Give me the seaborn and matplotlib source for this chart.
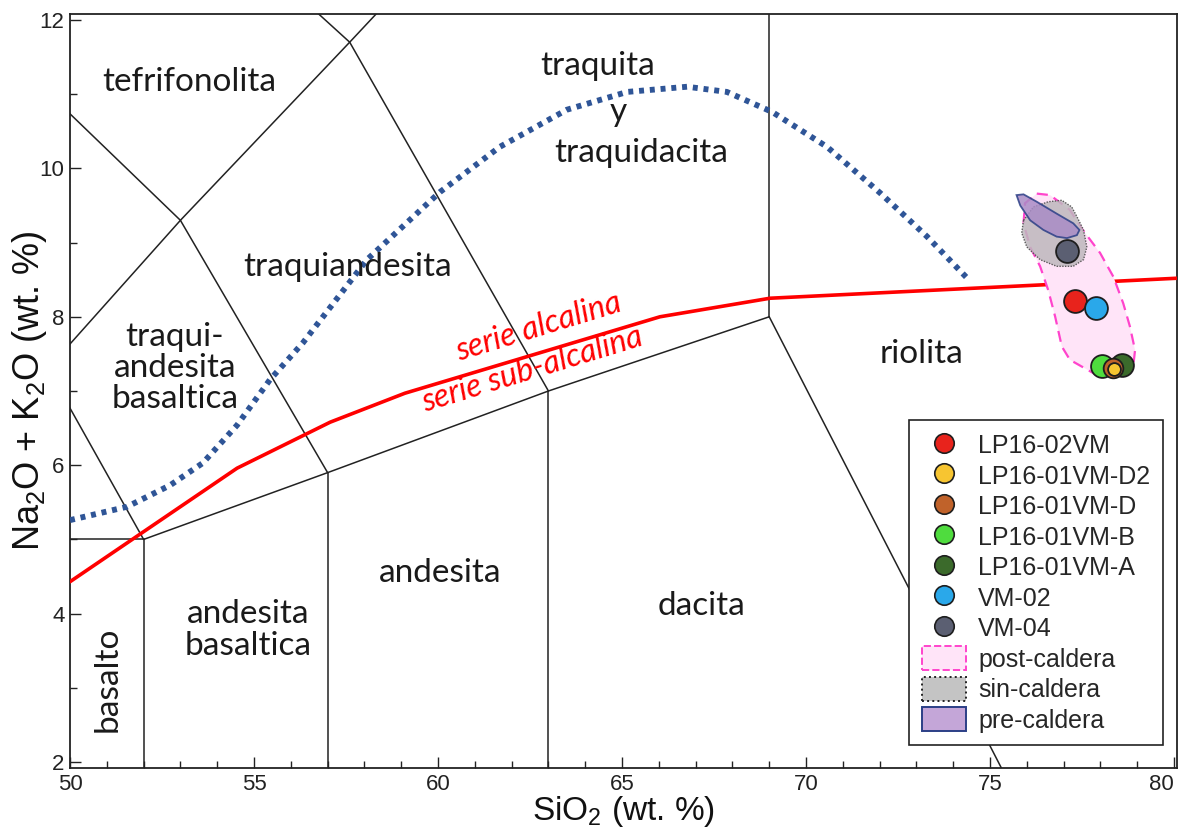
import numpy as np
import pandas as pd
import matplotlib.pyplot as plt
import seaborn as sns
from matplotlib.lines import Line2D
from matplotlib.patches import Patch
from matplotlib.ticker import MultipleLocator

sns.set_theme(style="white")
plt.rcParams['font.family'] = ['Liberation Sans', 'DejaVu Sans']
plt.rcParams['mathtext.fontset'] = 'custom'
plt.rcParams['mathtext.rm'] = 'Liberation Sans'
plt.rcParams['mathtext.default'] = 'regular'

# muestras
samples = ['LP16-02VM', 'LP16-01VM-D2', 'LP16-01VM-D', 'LP16-01VM-B', 'LP16-01VM-A', 'VM-02', 'VM-04']
sio2 = [77.31, 78.37, 78.34, 78.04, 78.59, 77.88, 77.09]
alk = [8.21, 7.30, 7.31, 7.34, 7.35, 8.12, 8.89]
colors = ['#e8231c', '#f7c531', '#c0622a', '#4fdc3e', '#3b6a2b', '#2aa8ea', '#5b5f72']
draw_order = ['LP16-01VM-B', 'LP16-01VM-A', 'LP16-01VM-D', 'LP16-01VM-D2', 'VM-04', 'LP16-02VM', 'VM-02']
sizes = {'LP16-01VM-D': 200, 'LP16-01VM-D2': 85}

# limites TAS (Le Bas et al. 1986)
tas_lines = [
    [(45, 5), (52, 5)],
    [(52, 0), (52, 5)],
    [(52, 5), (57, 5.9), (63, 7), (69, 8)],
    [(57, 0), (57, 5.9)],
    [(63, 0), (63, 7)],
    [(69, 8), (69, 13)],
    [(69, 8), (77.3, 0)],
    [(52, 5), (49.4, 7.3), (45, 9.4)],
    [(49.4, 7.3), (53, 9.3), (57.6, 11.7), (61, 13.5)],
    [(57, 5.9), (53, 9.3), (48.4, 11.5)],
    [(63, 7), (57.6, 11.7), (52.5, 14)],
]

# linea alcalina / sub-alcalina
alc_x = [50.0, 54.54, 57.07, 59.1, 66.03, 69.02, 80.1]
alc_y = [4.43, 5.96, 6.58, 6.97, 8.0, 8.25, 8.52]

# curva punteada azul
dot_x = [50.0, 51.55, 52.72, 53.61, 54.54, 55.43, 56.33, 58.07, 60.05, 61.68, 63.5, 65.14,
         66.77, 67.85, 69.08, 70.57, 72.01, 73.29, 74.38]
dot_y = [5.26, 5.44, 5.73, 6.03, 6.54, 7.15, 7.65, 8.77, 9.68, 10.29, 10.79, 11.03,
         11.10, 11.03, 10.76, 10.29, 9.67, 9.08, 8.52]

# campos de grupos
post_x = [76.27, 76.63, 77.17, 77.49, 77.99, 78.35, 78.62, 78.80, 78.94, 78.89, 78.53, 77.81,
          77.17, 76.95, 76.77, 76.58, 76.36, 76.09, 75.91, 75.95]
post_y = [9.66, 9.64, 9.44, 9.19, 8.86, 8.54, 8.18, 7.87, 7.55, 7.33, 7.19, 7.24,
          7.42, 7.60, 8.0, 8.36, 8.68, 8.94, 9.26, 9.53]
sin_x = [75.91, 76.18, 76.58, 76.95, 77.22, 77.36, 77.54, 77.63, 77.54, 77.26, 76.81, 76.36, 76.0, 75.86]
sin_y = [9.30, 9.48, 9.55, 9.57, 9.48, 9.35, 9.17, 8.94, 8.77, 8.68, 8.68, 8.77, 8.94, 9.13]
pre_x = [75.72, 75.91, 76.27, 76.81, 77.26, 77.43, 77.36, 77.09, 76.81, 76.45, 76.09, 75.82]
pre_y = [9.64, 9.65, 9.55, 9.39, 9.26, 9.17, 9.10, 9.06, 9.08, 9.17, 9.30, 9.50]

# nombres de campos
fields = [
    ('tefrifonolita', 53.23, 11.16, 0),
    ('traquita', 64.35, 11.38, 0),
    ('y', 64.89, 10.76, 0),
    ('traquidacita', 65.52, 10.21, 0),
    ('traquiandesita', 57.53, 8.67, 0),
    ('traqui-\nandesita\nbasaltica', 52.85, 7.31, 0),
    ('riolita', 73.15, 7.50, 0),
    ('andesita', 60.05, 4.55, 0),
    ('dacita', 67.17, 4.10, 0),
    ('andesita\nbasaltica', 54.84, 3.78, 0),
    ('basalto', 51.03, 3.11, 90),
]

x_ticks = [50, 55, 60, 65, 70, 75, 80]
y_ticks = [2, 4, 6, 8, 10, 12]

df = pd.DataFrame({'sample': samples, 'SiO2': sio2, 'alk': alk})
palette = dict(zip(samples, colors))

fig = plt.figure(figsize=(11.82, 8.34), dpi=100)
ax = fig.add_axes([70 / 1182, 1 - 768 / 834, 1107 / 1182, 754 / 834])

for seg in tas_lines:
    xs, ys = zip(*seg)
    ax.plot(xs, ys, color='#222222', lw=1.1, zorder=2)

sns.lineplot(x=dot_x, y=dot_y, sort=False, ax=ax, color='#2f5597', lw=4.2, zorder=3)
ax.lines[-1].set_dashes((0.85, 1.0))
sns.lineplot(x=alc_x, y=alc_y, sort=False, ax=ax, color='#ff0000', lw=2.6, zorder=4)

ax.fill(post_x, post_y, facecolor='#ffe4f8', edgecolor='#ff44cc', lw=1.6,
        linestyle=(0, (5, 3)), zorder=5)
ax.fill(sin_x, sin_y, facecolor='#bdb8bd', alpha=0.85, edgecolor='#444444', lw=1.0,
        linestyle=(0, (1, 1)), zorder=6)
ax.fill(pre_x, pre_y, facecolor='#a98cc6', alpha=0.85, edgecolor='#2b3f86', lw=1.3, zorder=7)

for i, name in enumerate(draw_order):
    sub = df[df['sample'] == name]
    sns.scatterplot(data=sub, x='SiO2', y='alk', color=palette[name], s=sizes.get(name, 270),
                    edgecolor='#1e1e1e', linewidth=1.3, ax=ax, legend=False, zorder=8 + i)

for txt, x, y, rot in fields:
    ax.text(x, y, txt, ha='center', va='center', fontsize=24, rotation=rot,
            family=['Lato', 'DejaVu Sans'], color='#1a1a1a', linespacing=1.05, zorder=3)

ax.text(62.72, 7.86, 'serie alcalina', color='#ff0000', fontsize=23, rotation=17,
        style='italic', ha='center', va='center', family=['Lato', 'DejaVu Sans'], zorder=4)
ax.text(62.55, 7.28, 'serie sub-alcalina', color='#ff0000', fontsize=23, rotation=17,
        style='italic', ha='center', va='center', family=['Lato', 'DejaVu Sans'], zorder=4)

ax.set_xlim(50.0, 80.08)
ax.set_ylim(1.92, 12.08)
ax.set_xticks(x_ticks)
ax.set_xticklabels([str(t) for t in x_ticks])
ax.set_yticks(y_ticks)
ax.xaxis.set_minor_locator(MultipleLocator(1))
ax.yaxis.set_minor_locator(MultipleLocator(1))
ax.tick_params(which='both', direction='in', bottom=True, left=True, top=False, right=False,
               colors='#222222', labelcolor='#222222')
ax.tick_params(which='major', length=8, width=1, labelsize=16, pad=4)
ax.tick_params(which='minor', length=5, width=1)
for sp in ax.spines.values():
    sp.set_color('#222222')
    sp.set_linewidth(1.3)
for lab in ax.get_xticklabels():
    if lab.get_text() == '80':
        lab.set_horizontalalignment('right')

ax.set_xlabel('SiO$_2$ (wt. %)', fontsize=24, color='#111111')
ax.xaxis.set_label_coords(0.5, -0.035)
ax.set_ylabel('Na$_2$O + K$_2$O (wt. %)', fontsize=26, color='#111111')
ax.yaxis.set_label_coords(-0.019, 0.5)

handles = [Line2D([], [], marker='o', ls='none', markersize=14, markerfacecolor=c,
                  markeredgecolor='#1e1e1e', markeredgewidth=1.2) for c in colors]
handles += [
    Patch(facecolor='#ffe4f8', edgecolor='#ff44cc', linestyle='--', lw=1.4),
    Patch(facecolor='#c4c4c4', edgecolor='#222222', linestyle=':', lw=1.4),
    Patch(facecolor='#c4a6d8', edgecolor='#2b3f86', lw=1.4),
]
labels = samples + ['post-caldera', 'sin-caldera', 'pre-caldera']
leg = ax.legend(handles, labels, loc='lower right', bbox_to_anchor=(0.9873, 0.0305),
                borderaxespad=0, fontsize=18, frameon=True, fancybox=False,
                edgecolor='#222222', framealpha=1, handlelength=1.76, handleheight=1.1,
                labelspacing=0.2, borderpad=0.5, handletextpad=0.5)
leg.get_frame().set_linewidth(1.2)
leg.set_zorder(20)

fig.savefig('out.png', dpi=100)
